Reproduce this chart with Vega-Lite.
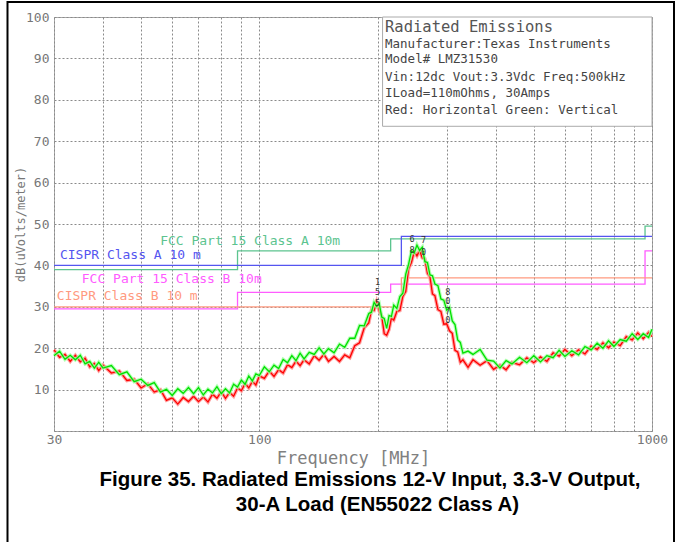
{
"$schema":"https://vega.github.io/schema/vega-lite/v6.json",
"width":598,"height":414,
"autosize":{"type":"none"},
"padding":{"left":54,"top":17,"right":30,"bottom":111},
"background":"white",
"config":{"view":{"stroke":"#aaaaaa","strokeWidth":1},"font":"DejaVu Sans Mono"},
"datasets":{
"h":[{"f":30,"v":19.6},{"f":31,"v":17.8},{"f":32,"v":18.5},{"f":33,"v":16.8},{"f":34,"v":18.3},{"f":35,"v":16.7},{"f":36,"v":17.6},{"f":37,"v":15.5},{"f":38,"v":16.3},{"f":39,"v":14.6},{"f":40,"v":15.9},{"f":42,"v":14.0},{"f":44,"v":14.5},{"f":46,"v":12.2},{"f":48,"v":12.5},{"f":50,"v":10.4},{"f":52,"v":11.4},{"f":54,"v":9.4},{"f":56,"v":10.0},{"f":58,"v":7.4},{"f":60,"v":8.0},{"f":62,"v":6.5},{"f":64,"v":8.1},{"f":66,"v":7.1},{"f":68,"v":8.4},{"f":70,"v":7.1},{"f":72,"v":8.2},{"f":74,"v":7.0},{"f":76,"v":8.9},{"f":78,"v":7.9},{"f":80,"v":9.5},{"f":82,"v":7.9},{"f":84,"v":9.3},{"f":86,"v":8.4},{"f":88,"v":10.4},{"f":90,"v":9.7},{"f":92,"v":11.5},{"f":94,"v":10.4},{"f":96,"v":12.0},{"f":98,"v":11.1},{"f":100,"v":13.3},{"f":103,"v":12.7},{"f":106,"v":14.5},{"f":109,"v":13.2},{"f":112,"v":14.8},{"f":115,"v":14.0},{"f":118,"v":16.0},{"f":121,"v":15.3},{"f":124,"v":16.9},{"f":127,"v":15.8},{"f":130,"v":17.2},{"f":134,"v":16.2},{"f":138,"v":18.2},{"f":142,"v":17.1},{"f":146,"v":18.5},{"f":150,"v":16.8},{"f":155,"v":18.0},{"f":160,"v":16.8},{"f":165,"v":18.4},{"f":170,"v":17.7},{"f":175,"v":20.6},{"f":180,"v":21.3},{"f":185,"v":24.9},{"f":190,"v":26.1},{"f":193,"v":29.2},{"f":196,"v":29.1},{"f":199,"v":31.2},{"f":202,"v":29.0},{"f":205,"v":27.8},{"f":208,"v":23.5},{"f":211,"v":23.1},{"f":214,"v":24.5},{"f":217,"v":27.3},{"f":220,"v":26.8},{"f":224,"v":28.9},{"f":228,"v":29.1},{"f":232,"v":32.5},{"f":236,"v":33.7},{"f":240,"v":39.2},{"f":244,"v":40.7},{"f":248,"v":43.3},{"f":252,"v":42.3},{"f":256,"v":43.6},{"f":260,"v":41.8},{"f":264,"v":41.6},{"f":268,"v":38.1},{"f":272,"v":37.2},{"f":276,"v":33.1},{"f":280,"v":32.7},{"f":285,"v":29.3},{"f":290,"v":28.9},{"f":295,"v":25.8},{"f":300,"v":25.9},{"f":305,"v":24.2},{"f":310,"v":23.6},{"f":315,"v":19.5},{"f":320,"v":19.1},{"f":325,"v":16.6},{"f":330,"v":17.2},{"f":340,"v":15.4},{"f":350,"v":17.2},{"f":365,"v":15.9},{"f":380,"v":17.0},{"f":395,"v":14.9},{"f":410,"v":15.9},{"f":425,"v":14.8},{"f":440,"v":16.6},{"f":460,"v":16.0},{"f":480,"v":17.7},{"f":500,"v":16.5},{"f":520,"v":17.9},{"f":540,"v":16.8},{"f":560,"v":18.9},{"f":580,"v":18.1},{"f":600,"v":19.7},{"f":625,"v":18.2},{"f":650,"v":19.6},{"f":675,"v":18.6},{"f":700,"v":20.5},{"f":725,"v":19.7},{"f":750,"v":21.3},{"f":775,"v":20.1},{"f":800,"v":21.5},{"f":830,"v":20.6},{"f":860,"v":22.8},{"f":890,"v":22.0},{"f":920,"v":23.7},{"f":950,"v":22.3},{"f":980,"v":23.8},{"f":1000,"v":22.8}],
"g":[{"f":30,"v":18.2},{"f":31,"v":19.3},{"f":32,"v":17.3},{"f":33,"v":18.3},{"f":34,"v":17.2},{"f":35,"v":18.3},{"f":36,"v":16.2},{"f":37,"v":16.8},{"f":38,"v":15.2},{"f":39,"v":16.6},{"f":40,"v":15.2},{"f":42,"v":15.8},{"f":44,"v":13.6},{"f":46,"v":14.3},{"f":48,"v":11.9},{"f":50,"v":12.5},{"f":52,"v":11.0},{"f":54,"v":11.7},{"f":56,"v":9.4},{"f":58,"v":10.1},{"f":60,"v":8.6},{"f":62,"v":10.2},{"f":64,"v":9.1},{"f":66,"v":10.5},{"f":68,"v":9.0},{"f":70,"v":10.5},{"f":72,"v":8.7},{"f":74,"v":10.1},{"f":76,"v":9.2},{"f":78,"v":10.7},{"f":80,"v":9.0},{"f":82,"v":10.2},{"f":84,"v":9.2},{"f":86,"v":11.3},{"f":88,"v":10.6},{"f":90,"v":12.3},{"f":92,"v":11.3},{"f":94,"v":13.3},{"f":96,"v":12.1},{"f":98,"v":13.8},{"f":100,"v":13.4},{"f":103,"v":15.5},{"f":106,"v":14.3},{"f":109,"v":15.9},{"f":112,"v":15.1},{"f":115,"v":17.3},{"f":118,"v":16.5},{"f":121,"v":18.2},{"f":124,"v":17.0},{"f":127,"v":18.8},{"f":130,"v":17.4},{"f":134,"v":19.0},{"f":138,"v":18.5},{"f":142,"v":20.1},{"f":146,"v":18.6},{"f":150,"v":19.9},{"f":155,"v":18.9},{"f":160,"v":21.0},{"f":165,"v":20.2},{"f":170,"v":22.4},{"f":175,"v":22.4},{"f":180,"v":25.5},{"f":185,"v":25.4},{"f":190,"v":28.4},{"f":193,"v":28.7},{"f":196,"v":31.1},{"f":199,"v":30.1},{"f":202,"v":30.8},{"f":205,"v":27.5},{"f":208,"v":27.2},{"f":211,"v":24.8},{"f":214,"v":27.9},{"f":217,"v":27.7},{"f":220,"v":30.4},{"f":224,"v":29.6},{"f":228,"v":32.5},{"f":232,"v":33.3},{"f":236,"v":37.9},{"f":240,"v":40.3},{"f":244,"v":43.5},{"f":248,"v":43.0},{"f":252,"v":44.9},{"f":256,"v":43.6},{"f":260,"v":44.4},{"f":264,"v":40.9},{"f":268,"v":40.7},{"f":272,"v":37.7},{"f":276,"v":37.5},{"f":280,"v":35.5},{"f":285,"v":35.1},{"f":290,"v":31.9},{"f":295,"v":31.6},{"f":300,"v":29.2},{"f":305,"v":29.9},{"f":310,"v":26.6},{"f":315,"v":25.7},{"f":320,"v":22.0},{"f":325,"v":21.4},{"f":330,"v":18.8},{"f":340,"v":19.3},{"f":350,"v":18.5},{"f":365,"v":19.7},{"f":380,"v":17.1},{"f":395,"v":16.9},{"f":410,"v":15.2},{"f":425,"v":17.0},{"f":440,"v":16.2},{"f":460,"v":17.8},{"f":480,"v":16.5},{"f":500,"v":18.2},{"f":520,"v":16.7},{"f":540,"v":18.2},{"f":560,"v":17.7},{"f":580,"v":19.5},{"f":600,"v":18.0},{"f":625,"v":19.4},{"f":650,"v":18.4},{"f":675,"v":20.4},{"f":700,"v":19.6},{"f":725,"v":21.2},{"f":750,"v":20.0},{"f":775,"v":21.8},{"f":800,"v":20.4},{"f":830,"v":22.1},{"f":860,"v":21.7},{"f":890,"v":23.5},{"f":920,"v":22.1},{"f":950,"v":23.5},{"f":980,"v":22.6},{"f":1000,"v":24.6}],
"lim":[{"f":30,"v":39,"lim":"FCC A"},{"f":88,"v":43.5,"lim":"FCC A"},{"f":216,"v":46.4,"lim":"FCC A"},{"f":960,"v":49.5,"lim":"FCC A"},{"f":1000,"v":49.5,"lim":"FCC A"},
{"f":30,"v":40,"lim":"CISPR A"},{"f":230,"v":47,"lim":"CISPR A"},{"f":1000,"v":47,"lim":"CISPR A"},
{"f":30,"v":29.5,"lim":"FCC B"},{"f":88,"v":33.5,"lim":"FCC B"},{"f":216,"v":35.5,"lim":"FCC B"},{"f":960,"v":43.5,"lim":"FCC B"},{"f":1000,"v":43.5,"lim":"FCC B"},
{"f":30,"v":30,"lim":"CISPR B"},{"f":230,"v":37,"lim":"CISPR B"},{"f":1000,"v":37,"lim":"CISPR B"}],
"limlab":[{"f":55.9,"v":44.9,"lim":"FCC A","t":"FCC Part 15 Class A 10m"},{"f":31.06,"v":41.5,"lim":"CISPR A","t":"CISPR Class A 10 m"},{"f":35.3,"v":35.8,"lim":"FCC B","t":"FCC Part 15  Class B 10m"},{"f":30.5,"v":31.75,"lim":"CISPR B","t":"CISPR Class B 10 m"}],
"info":[{"f":209,"v":92.6,"t":"Manufacturer:Texas Instruments"},{"f":209,"v":89.0,"t":"Model# LMZ31530"},{"f":209,"v":84.6,"t":"Vin:12dc Vout:3.3Vdc Freq:500kHz"},{"f":209,"v":80.7,"t":"ILoad=110mOhms, 30Amps"},{"f":209,"v":76.5,"t":"Red: Horizontal  Green: Vertical"}],
"mk":[{"f":200,"v":35.9,"t":"1"},{"f":200,"v":33.6,"t":"5"},{"f":200,"v":31.0,"t":"5"},{"f":245,"v":46.4,"t":"6"},{"f":262,"v":46.1,"t":"7"},{"f":245,"v":43.6,"t":"8"},{"f":262,"v":43.2,"t":"0"},{"f":302,"v":33.6,"t":"8"},{"f":302,"v":31.3,"t":"0"},{"f":302,"v":29.0,"t":"7"},{"f":302,"v":26.7,"t":"0"}],
"cap":[{"f":191.3,"v":-13.2,"t":"Figure 35. Radiated Emissions 12-V Input, 3.3-V Output,"},{"f":200,"v":-19.3,"t":"30-A Load (EN55022 Class A)"}]
},
"layer":[
{"data":{"name":"lim"},
 "mark":{"type":"line","interpolate":"step-after","strokeWidth":1.3},
 "encoding":{
  "x":{"field":"f","type":"quantitative","scale":{"type":"log","domain":[30,1000],"nice":false},
   "axis":{"title":"Frequency [MHz]","titleFont":"DejaVu Sans Mono","titleFontSize":17,"titleFontWeight":"normal","titleColor":"#808080","titlePadding":4,
     "values":[30,40,50,60,70,80,90,100,200,300,400,500,600,700,800,900,1000],
     "labelExpr":"(datum.value==30||datum.value==100||datum.value==1000) ? ''+datum.value : ''",
     "labelFont":"DejaVu Sans Mono","labelFontSize":13,"labelColor":"#777777","labelPadding":2,"labelFlush":false,"labelOverlap":false,
     "ticks":false,"tickSize":0,"domain":false,"grid":true,"gridColor":"#8a8a8a","gridDash":[2,2],"gridWidth":1,"gridOpacity":1}},
  "y":{"field":"v","type":"quantitative","scale":{"domain":[0,100],"nice":false},
   "axis":{"title":"dB(uVolts/meter)","titleFont":"DejaVu Sans Mono","titleFontSize":12,"titleFontWeight":"normal","titleColor":"#777777","titlePadding":-2,
     "values":[0,10,20,30,40,50,60,70,80,90,100],
     "labelExpr":"datum.value==0 ? '' : datum.label",
     "labelFont":"DejaVu Sans Mono","labelFontSize":13,"labelColor":"#777777","labelPadding":5,"labelFlush":false,"labelOverlap":false,
     "ticks":false,"tickSize":0,"domain":false,"grid":true,"gridColor":"#8a8a8a","gridDash":[2,2],"gridWidth":1,"gridOpacity":1}},
  "color":{"field":"lim","type":"nominal","scale":{"domain":["FCC A","CISPR A","FCC B","CISPR B"],"range":["#5cc48f","#5555f0","#ff5cff","#ff9a80"]},"legend":null}
 }},
{"data":{"name":"h"},"mark":{"type":"line","color":"#ffa0a0","strokeWidth":3.5},"encoding":{"x":{"field":"f","type":"quantitative"},"y":{"field":"v","type":"quantitative"}}},
{"data":{"name":"h"},"mark":{"type":"line","color":"#ff0000","strokeWidth":1.3},"encoding":{"x":{"field":"f","type":"quantitative"},"y":{"field":"v","type":"quantitative"}}},
{"data":{"name":"g"},"mark":{"type":"line","color":"#a0ffa0","strokeWidth":3.5,"opacity":0.8},"encoding":{"x":{"field":"f","type":"quantitative"},"y":{"field":"v","type":"quantitative"}}},
{"data":{"name":"g"},"mark":{"type":"line","color":"#00e000","strokeWidth":1.3},"encoding":{"x":{"field":"f","type":"quantitative"},"y":{"field":"v","type":"quantitative"}}},
{"data":{"name":"limlab"},"mark":{"type":"text","align":"left","baseline":"alphabetic","font":"DejaVu Sans Mono","fontSize":13},
 "encoding":{"x":{"field":"f","type":"quantitative"},"y":{"field":"v","type":"quantitative"},"text":{"field":"t"},"color":{"field":"lim","type":"nominal","legend":null}}},
{"data":{"name":"mk"},"mark":{"type":"text","align":"center","baseline":"middle","font":"DejaVu Sans Mono","fontSize":8.5,"color":"#333333"},
 "encoding":{"x":{"field":"f","type":"quantitative"},"y":{"field":"v","type":"quantitative"},"text":{"field":"t"}}},
{"data":{"values":[{}]},"mark":{"type":"rect","fill":"white","stroke":"#aaaaaa","strokeWidth":1},
 "encoding":{"x":{"datum":206},"x2":{"datum":1000},"y":{"datum":100},"y2":{"datum":73.6}}},
{"data":{"values":[{}]},"mark":{"type":"text","align":"left","baseline":"alphabetic","font":"DejaVu Sans Mono","fontSize":15.5,"color":"#555555"},
 "encoding":{"x":{"datum":209},"y":{"datum":96.3},"text":{"value":"Radiated Emissions"}}},
{"data":{"name":"info"},"mark":{"type":"text","align":"left","baseline":"alphabetic","font":"DejaVu Sans Mono","fontSize":12.5,"color":"#444444"},
 "encoding":{"x":{"field":"f","type":"quantitative"},"y":{"field":"v","type":"quantitative"},"text":{"field":"t"}}},
{"data":{"name":"cap"},"mark":{"type":"text","align":"center","baseline":"alphabetic","font":"Liberation Sans","fontSize":20.5,"fontWeight":"bold","color":"#000000"},
 "encoding":{"x":{"field":"f","type":"quantitative"},"y":{"field":"v","type":"quantitative"},"text":{"field":"t"}}},
{"data":{"values":[{}]},"mark":{"type":"rect","fill":null,"filled":false,"stroke":"#000000","strokeWidth":2},
 "encoding":{"x":{"datum":22.84},"x2":{"datum":1137.7},"y":{"datum":103.6},"y2":{"datum":-40}}}
]
}
